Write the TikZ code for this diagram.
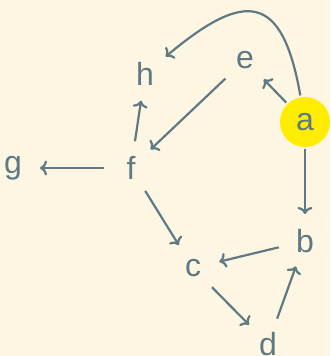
\documentclass[tikz,border=0pt]{standalone}
\usepackage{fontspec}
\setmainfont{Liberation Sans}
\usepackage{xcolor}
\usetikzlibrary{arrows.meta}
\definecolor{paper}{HTML}{FDF6E3}
\definecolor{ink}{HTML}{5F7A84}
\definecolor{sun}{HTML}{FFEC00}
\tikzset{
  vertex/.style={circle,minimum size=25pt,inner sep=0pt,outer sep=1pt,text=ink,font=\fontsize{16}{19}\selectfont},
  edge/.style={-{To[length=3.5pt,width=7.5pt]},draw=ink,line width=1.1pt},
}

\begin{document}
\begin{tikzpicture}[x=0.5pt,y=-0.5pt]
  \fill[paper] (0,0) rectangle (330,356);
  \useasboundingbox (0,0) rectangle (330,356);
  \node[vertex,fill=sun] (a) at (305,122) {a};
  \foreach \n/\x/\y in {b/305/241,c/193/268,d/268/344,e/245/60,f/131/168,g/13/168,h/145/74}
    \node[vertex] (\n) at (\x,\y) {\n};
  \foreach \s/\t in {a/e,a/b,e/f,f/h,f/g,f/c,b/c,c/d,d/b}
    \draw[edge] (\s) -- (\t);
  \draw[edge] (a) to[out=100,in=40,looseness=1.9] (h);
\end{tikzpicture}
\end{document}
